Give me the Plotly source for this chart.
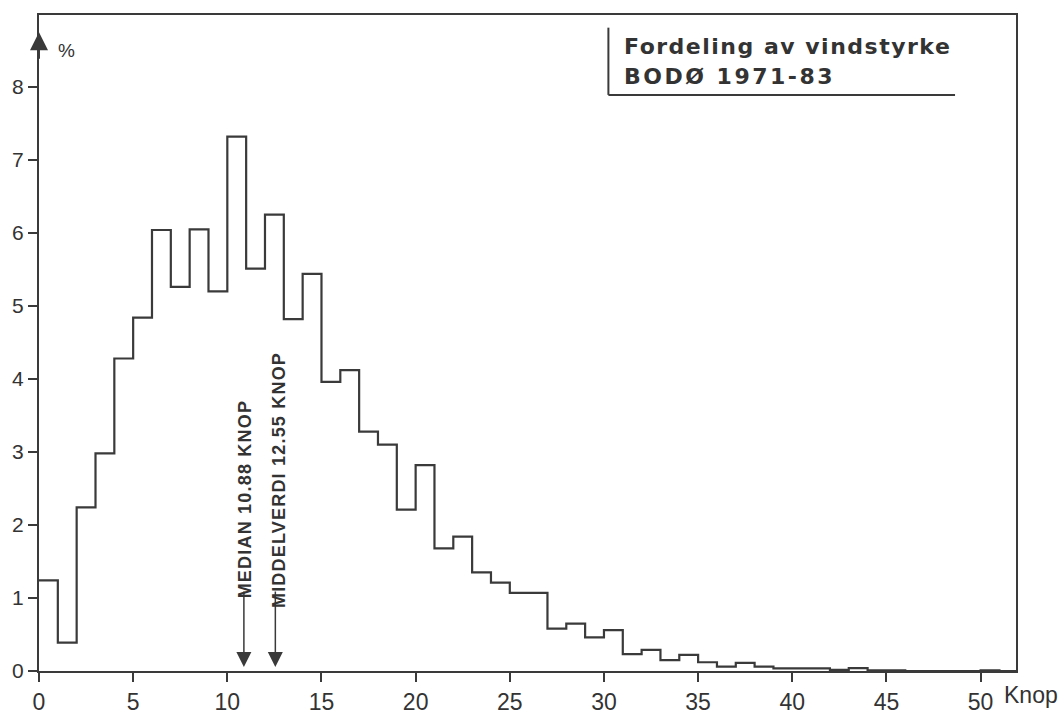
import plotly.graph_objects as go

# Wind-speed distribution, Bodø 1971-83: share of observations (%) per 1-knot class
bin_start = list(range(0, 52))
share_pct = [1.24, 0.39, 2.24, 2.98, 4.28, 4.84, 6.04, 5.26, 6.05, 5.20,
             7.32, 5.51, 6.25, 4.82, 5.44, 3.96, 4.12, 3.28, 3.10, 2.21,
             2.82, 1.68, 1.84, 1.35, 1.21, 1.07, 1.07, 0.58, 0.65, 0.46,
             0.56, 0.23, 0.29, 0.15, 0.22, 0.12, 0.06, 0.11, 0.06, 0.035,
             0.035, 0.035, 0.015, 0.04, 0.01, 0.01, 0.0, 0.0, 0.0, 0.0,
             0.01, 0.0]

median_knop = 10.88
mean_knop = 12.55

x_ticks = [0, 5, 10, 15, 20, 25, 30, 35, 40, 45, 50]
y_ticks = [0, 1, 2, 3, 4, 5, 6, 7, 8]

title_lines = ["Fordeling av vindstyrke", "BODØ 1971-83"]

INK = "#3a3a3a"
TXT = "#333333"

# step outline: each class drawn from its lower edge to the next
step_x = bin_start + [bin_start[-1] + 1]
step_y = share_pct + [share_pct[-1]]

fig = go.Figure()
fig.add_trace(go.Scatter(
    x=step_x, y=step_y, mode="lines", line_shape="hv",
    line=dict(color=INK, width=2.2), hoverinfo="skip", showlegend=False,
))

fig.update_layout(
    width=1062, height=727,
    margin=dict(l=38, r=46, t=15, b=39),
    paper_bgcolor="white", plot_bgcolor="white",
    showlegend=False,
    xaxis=dict(
        range=[0, 51.88], tickvals=x_ticks, ticks="outside", ticklen=9,
        tickwidth=2, tickcolor=INK, showline=True, linecolor=INK, linewidth=2,
        mirror=True, showgrid=False, zeroline=False,
        tickfont=dict(family="Liberation Sans, Arial, sans-serif", size=23, color=TXT),
    ),
    yaxis=dict(
        range=[0, 8.985], tickvals=y_ticks, ticks="outside", ticklen=9,
        tickwidth=2, tickcolor=INK, showline=True, linecolor=INK, linewidth=2,
        mirror=True, showgrid=False, zeroline=False,
        tickfont=dict(family="Liberation Sans, Arial, sans-serif", size=21, color=TXT),
    ),
)

annotations = []

# arrowhead on top of the y axis and the unit label
annotations.append(dict(
    x=0, y=8.75, xref="x", yref="y", text="", showarrow=True,
    ax=0, ay=28, arrowhead=2, arrowsize=1.8, arrowwidth=2, arrowcolor=INK,
))
annotations.append(dict(
    x=0.9, y=8.5, xref="x", yref="y", text="%", showarrow=False,
    xanchor="left", yanchor="middle",
    font=dict(family="Liberation Sans, Arial, sans-serif", size=19, color=TXT),
))

# axis unit
annotations.append(dict(
    x=0.9857, y=-0.036, xref="paper", yref="paper", text="Knop",
    showarrow=False, xanchor="left", yanchor="middle",
    font=dict(family="Liberation Sans, Arial, sans-serif", size=23, color=TXT),
))

# median and mean markers
label_font = dict(family="Liberation Sans, Arial, sans-serif", size=18, color=TXT)
for value, name, text_y, shift in [
    (median_knop, "MEDIAN", 2.35, 2),
    (mean_knop, "MIDDELVERDI", 2.62, 3),
]:
    annotations.append(dict(
        x=value, y=0, xref="x", yref="y", text="", showarrow=True,
        ax=0, ay=-81, standoff=4, arrowhead=2, arrowsize=2.0,
        arrowwidth=1.5, arrowcolor=INK,
    ))
    annotations.append(dict(
        x=value, y=text_y, xref="x", yref="y", xshift=shift,
        text=f"<span style='letter-spacing:1.2px'><b>{name} {value:.2f} KNOP</b></span>",
        showarrow=False, textangle=-90, xanchor="center", yanchor="middle",
        font=label_font,
    ))

# title block in the upper right corner
title_font = dict(family="DejaVu Sans, sans-serif", size=22, color=TXT)
annotations.append(dict(
    x=0.597, y=0.9525, xref="paper", yref="paper",
    text=f"<span style='letter-spacing:1.5px'><b>{title_lines[0]}</b></span>",
    showarrow=False, xanchor="left", yanchor="middle", font=title_font,
))
annotations.append(dict(
    x=0.597, y=0.9064, xref="paper", yref="paper",
    text=f"<span style='letter-spacing:2.5px'><b>{title_lines[1]}</b></span>",
    showarrow=False, xanchor="left", yanchor="middle", font=title_font,
))
fig.update_layout(annotations=annotations)

fig.add_shape(type="line", xref="paper", yref="paper",
              x0=0.5828, y0=0.9807, x1=0.5828, y1=0.8782,
              line=dict(color=INK, width=2))
fig.add_shape(type="line", xref="paper", yref="paper",
              x0=0.5828, y0=0.8782, x1=0.9376, y1=0.8782,
              line=dict(color=INK, width=2))

fig.write_html("out.html")
